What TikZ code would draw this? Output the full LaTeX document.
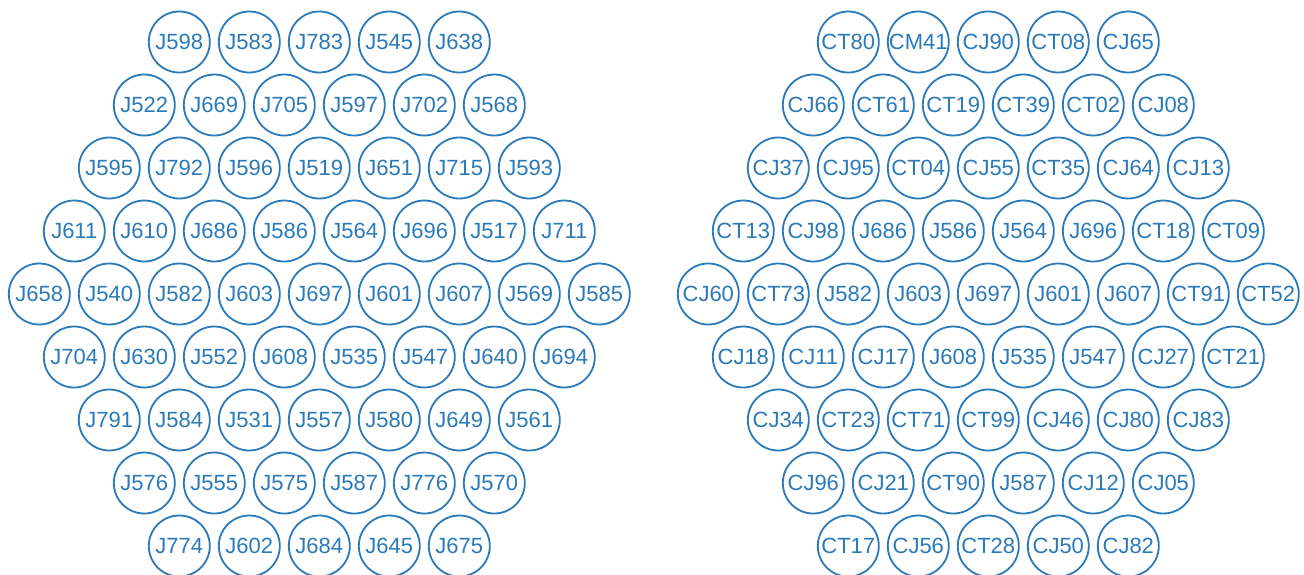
\documentclass[tikz,border=0pt]{standalone}
\usepackage{fontspec}
\setmainfont{Liberation Sans}
\definecolor{cellblue}{HTML}{2A7AB9}
\tikzset{
  cell/.style={circle, draw=cellblue, text=cellblue, line width=1.8pt,
    minimum size=61pt, inner sep=0pt, font=\fontsize{22}{22}\selectfont}
}
% #1 name prefix, #2 x of the middle column, #3 rows of labels (top to bottom)
\newcommand\hexcells[3]{%
  \foreach \row [count=\i from 0] in {#3} {
    \pgfmathtruncatemacro\n{9-abs(\i-4)}
    \foreach \lab [count=\j from 0] in \row {
      \node[cell] (#1-\i-\j) at ({#2+70*(\j-(\n-1)/2)},{42+63*\i}) {\lab};
    }
  }%
}
\begin{document}
\begin{tikzpicture}[x=1pt,y=-1pt]
\useasboundingbox (0,0) rectangle (1304,574);
\hexcells{L}{319.3}{
  {J598,J583,J783,J545,J638},
  {J522,J669,J705,J597,J702,J568},
  {J595,J792,J596,J519,J651,J715,J593},
  {J611,J610,J686,J586,J564,J696,J517,J711},
  {J658,J540,J582,J603,J697,J601,J607,J569,J585},
  {J704,J630,J552,J608,J535,J547,J640,J694},
  {J791,J584,J531,J557,J580,J649,J561},
  {J576,J555,J575,J587,J776,J570},
  {J774,J602,J684,J645,J675}}
\hexcells{R}{988.3}{
  {CT80,CM41,CJ90,CT08,CJ65},
  {CJ66,CT61,CT19,CT39,CT02,CJ08},
  {CJ37,CJ95,CT04,CJ55,CT35,CJ64,CJ13},
  {CT13,CJ98,J686,J586,J564,J696,CT18,CT09},
  {CJ60,CT73,J582,J603,J697,J601,J607,CT91,CT52},
  {CJ18,CJ11,CJ17,J608,J535,J547,CJ27,CT21},
  {CJ34,CT23,CT71,CT99,CJ46,CJ80,CJ83},
  {CJ96,CJ21,CT90,J587,CJ12,CJ05},
  {CT17,CJ56,CT28,CJ50,CJ82}}
\end{tikzpicture}
\end{document}
